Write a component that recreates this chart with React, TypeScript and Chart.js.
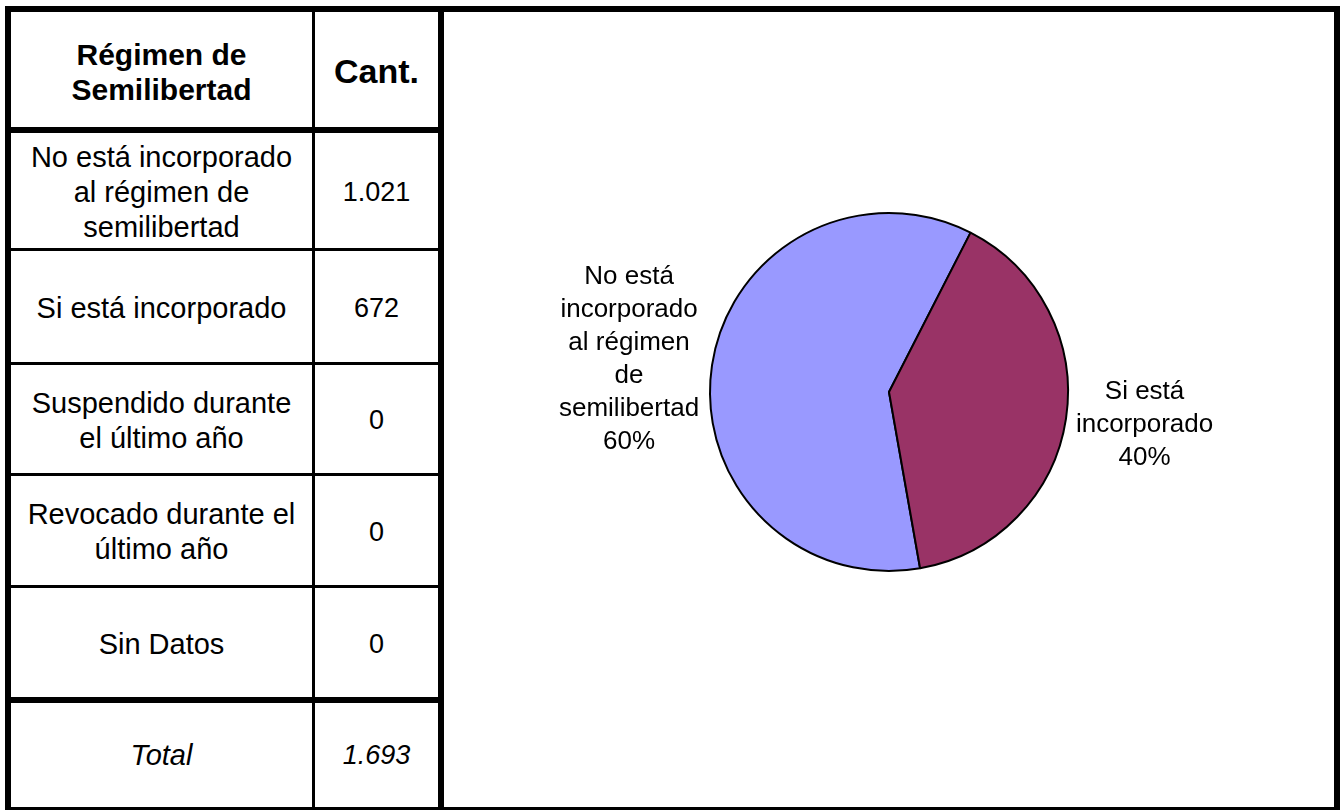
import React, { useEffect, useRef } from "react";
import { Chart, registerables } from "chart.js";

Chart.register(...registerables);

const headerLabel = "Régimen de Semilibertad";
const headerCount = "Cant.";
const totalLabel = "Total";
const categories = [
  "No está incorporado al régimen de semilibertad",
  "Si está incorporado",
  "Suspendido durante el último año",
  "Revocado durante el último año",
  "Sin Datos",
];
const counts = [1021, 672, 0, 0, 0];
const sliceColors = ["#9999FF", "#993366", "#FFFFCC", "#CCFFFF", "#660066"];

const FONT = "'Liberation Sans', Arial, Helvetica, sans-serif";

const fmt = (n: number) => String(n).replace(/\B(?=(\d{3})+(?!\d))/g, ".");

// layout (positions, not data)
const rowBands: [number, number][] = [
  [133, 248],
  [251, 362],
  [365, 473],
  [476, 585],
  [588, 697],
];
const hLines: [number, number][] = [
  [6, 6],
  [127, 6],
  [248, 3],
  [362, 3],
  [473, 3],
  [585, 3],
  [697, 6],
  [807, 6],
];

const labelPlugin = {
  id: "pieLabels",
  afterDatasetsDraw(chart: any) {
    const ctx = chart.ctx;
    const meta = chart.getDatasetMeta(0);
    const data = chart.data.datasets[0].data as number[];
    const labels = chart.data.labels as string[];
    const total = data.reduce((a: number, b: number) => a + b, 0);
    ctx.save();
    ctx.font = `26px ${FONT}`;
    ctx.fillStyle = "#000";
    ctx.textBaseline = "middle";
    ctx.textAlign = "center";
    const maxW = 150;
    const lh = 33;
    meta.data.forEach((arc: any, i: number) => {
      const { x, y, startAngle, endAngle, outerRadius } = arc.getProps(
        ["x", "y", "startAngle", "endAngle", "outerRadius"],
        true
      );
      const mid = (startAngle + endAngle) / 2;
      const words = labels[i].split(" ");
      const lines: string[] = [];
      let cur = "";
      for (const w of words) {
        const t = cur ? cur + " " + w : w;
        if (cur && ctx.measureText(t).width > maxW) {
          lines.push(cur);
          cur = w;
        } else cur = t;
      }
      if (cur) lines.push(cur);
      lines.push(Math.round((data[i] / total) * 100) + "%");
      const bw = Math.max(...lines.map((l) => ctx.measureText(l).width));
      const left = Math.cos(mid) < 0;
      const ax = x + Math.cos(mid) * (outerRadius + (left ? 13 : 10));
      const ay = y + Math.sin(mid) * (outerRadius + 40);
      const cx = left ? ax - bw / 2 : ax + bw / 2;
      const top = ay - (lines.length * lh) / 2;
      lines.forEach((l, k) => ctx.fillText(l, cx, top + lh * k + lh / 2));
    });
    ctx.restore();
  },
};

function PieChart() {
  const ref = useRef<HTMLCanvasElement>(null);
  useEffect(() => {
    if (!ref.current) return;
    const idx = counts.map((v, i) => i).filter((i) => counts[i] > 0);
    const chart = new Chart(ref.current, {
      type: "pie",
      data: {
        labels: idx.map((i) => categories[i]),
        datasets: [
          {
            data: idx.map((i) => counts[i]),
            backgroundColor: idx.map((i) => sliceColors[i]),
            borderColor: "#000",
            borderWidth: 2,
            radius: 179,
          } as any,
        ],
      },
      options: {
        animation: false,
        responsive: false,
        devicePixelRatio: 1,
        rotation: 170,
        layout: { padding: 0 },
        plugins: { legend: { display: false }, tooltip: { enabled: false } },
      },
      plugins: [labelPlugin],
    });
    return () => chart.destroy();
  }, []);
  return (
    <canvas
      ref={ref}
      width={890}
      height={760}
      style={{ position: "absolute", left: 444, top: 12, width: 890, height: 760 }}
    />
  );
}

const cellStyle = (
  left: number,
  top: number,
  width: number,
  height: number,
  extra: React.CSSProperties = {}
): React.CSSProperties => ({
  position: "absolute",
  left,
  top,
  width,
  height,
  display: "flex",
  alignItems: "center",
  justifyContent: "center",
  textAlign: "center",
  boxSizing: "border-box",
  lineHeight: "35px",
  ...extra,
});

export default function App() {
  const total = counts.reduce((a, b) => a + b, 0);
  const black = "#000";
  return (
    <div
      style={{
        position: "absolute",
        left: 0,
        top: 0,
        width: 1342,
        height: 810,
        overflow: "hidden",
        background: "#fff",
        fontFamily: FONT,
        color: "#000",
      }}
    >
      {/* header */}
      <div
        style={cellStyle(11, 12, 301, 115, {
          fontWeight: "bold",
          fontSize: 30,
          padding: "4px 40px 0",
        })}
      >
        {headerLabel}
      </div>
      <div style={cellStyle(315, 12, 123, 115, { fontWeight: "bold", fontSize: 34, paddingTop: 4 })}>
        {headerCount}
      </div>
      {categories.map((c, i) => (
        <React.Fragment key={c}>
          <div
            style={cellStyle(11, rowBands[i][0], 301, rowBands[i][1] - rowBands[i][0], {
              fontSize: 29,
              padding: "3px 12px 0",
            })}
          >
            {c}
          </div>
          <div
            style={cellStyle(315, rowBands[i][0], 123, rowBands[i][1] - rowBands[i][0], {
              fontSize: 27,
              paddingTop: 3,
            })}
          >
            {fmt(counts[i])}
          </div>
        </React.Fragment>
      ))}
      <div style={cellStyle(11, 703, 301, 104, { fontSize: 29, fontStyle: "italic" })}>{totalLabel}</div>
      <div style={cellStyle(315, 703, 123, 104, { fontSize: 27, fontStyle: "italic" })}>{fmt(total)}</div>

      <PieChart />

      {/* grid lines */}
      {hLines.map(([y, h], i) => {
        const full = i === 0 || i === hLines.length - 1;
        return (
          <div
            key={"h" + i}
            style={{
              position: "absolute",
              left: 5,
              top: y,
              width: full ? 1335 : 439,
              height: h,
              background: black,
            }}
          />
        );
      })}
      <div style={{ position: "absolute", left: 5, top: 6, width: 6, height: 810, background: black }} />
      <div style={{ position: "absolute", left: 312, top: 6, width: 3, height: 810, background: black }} />
      <div style={{ position: "absolute", left: 438, top: 6, width: 6, height: 810, background: black }} />
      <div style={{ position: "absolute", left: 1334, top: 6, width: 6, height: 810, background: black }} />
    </div>
  );
}
